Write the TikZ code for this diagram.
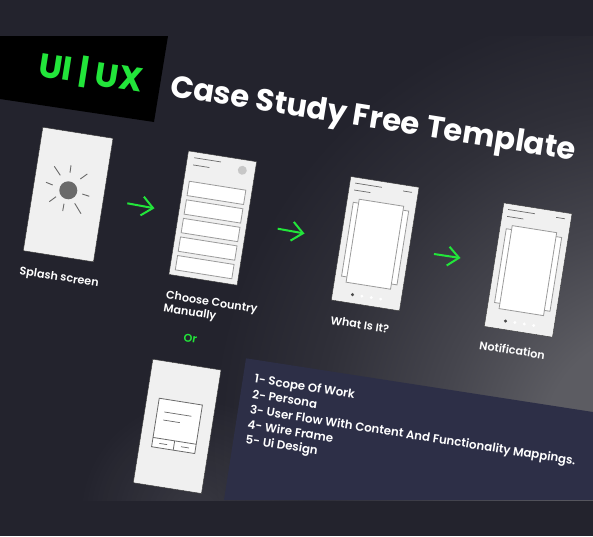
\documentclass[tikz,border=0pt]{standalone}
\usepackage{fontspec}
\setmainfont{Poppins}[BoldFont={Poppins SemiBold}]
\newfontfamily\headfont{Poppins}
\usetikzlibrary{arrows.meta,fadings}
\definecolor{bgdark}{HTML}{23232D}
\definecolor{neon}{HTML}{22E53A}
\definecolor{panelblue}{HTML}{2D2F47}
\definecolor{paper}{HTML}{F0F0F0}
\definecolor{wire}{HTML}{9A9A9A}
\definecolor{ink}{HTML}{6A6A6A}
\definecolor{glowA}{HTML}{5C5C62}
\definecolor{glowB}{HTML}{45454D}
\definecolor{glowC}{HTML}{2F2F38}
\pgfdeclareradialshading{bgglow}{\pgfpoint{0bp}{0bp}}{color(0bp)=(glowA); color(6bp)=(glowA); color(12bp)=(glowB); color(19bp)=(glowC); color(25bp)=(bgdark); color(50bp)=(bgdark)}
\tikzfading[name=softspot,inner color=transparent!90,outer color=transparent!100]
\tikzset{
  screen/.style={draw=black!80,line width=.4pt,fill=paper,minimum width=69pt,minimum height=125pt,rotate=-9,anchor=north west,inner sep=0pt},
  label/.style={rotate=-9,anchor=base west,inner sep=0pt,text=white,font=\fontsize{11.2}{12}\selectfont\bfseries},
  listitem/.style={label,font=\fontsize{11.8}{13}\selectfont\bfseries},
  greenarrow/.style={draw=neon,line width=2pt,-{Straight Barb[length=11pt,width=19pt,line width=2pt]}},
  wireline/.style={draw=ink,line width=.7pt},
  wirebox/.style={draw=wire,line width=.8pt,fill=white},
  ray/.style={draw=ink,line width=.9pt},
}
\newcommand{\headerlines}{%
  \draw[wireline] (5.5,6) -- ++(27,0);
  \draw[wireline] (5.5,13) -- ++(16.5,0);}
\newcommand{\shortline}{\draw[wireline] (54,6.3) -- ++(9,0);}
\newcommand{\cardstack}{%
  \draw[wirebox] (6.6,25.3) rectangle (62.7,100);
  \draw[wirebox] (12,21.3) rectangle (57,105.3);
  \fill[ink!70!black] (20.3,116.6) circle (1.7);
  \foreach \xx in {29.8,39.3,48.8}{\fill[white] (\xx,116.6) circle (1.6);}}
\begin{document}
\begin{tikzpicture}[x=1pt,y=-1pt]
\useasboundingbox (0,0) rectangle (593,536);
\fill[bgdark] (0,0) rectangle (593,536);
\begin{scope}
  \clip (0,36) rectangle (593,500);
  \shade[shading=bgglow] (650,440) circle (440);
  \fill[white,path fading=softspot] (195,515) circle (120);
\end{scope}
% panel and banner
\fill[panelblue] (246,358.3) -- (593,412) -- (593,500) -- (224,500) -- cycle;
\fill[black] (0,36) -- (168,36) -- (154,122) -- (0,99) -- cycle;
% headings
\node[label,text=neon,font=\fontsize{33.5}{36}\headfont\bfseries] (uiux) at (37,76) {UI | UX};
\node[label,font=\fontsize{30.6}{34}\headfont\bfseries] (title) at (169,96) {Case Study Free Template};
% screens
\node[screen,minimum width=71pt] (s1) at (42.7,127) {};
\node[screen] (s2) at (188.3,150.7) {};
\node[screen] (s3) at (350.7,176.3) {};
\node[screen] (s4) at (503.7,202.7) {};
\node[screen] (s5) at (152.7,359) {};
% screen 1: sun
\fill[ink] (68.3,190.3) circle (9);
\draw[ray] (54.3,166.3) -- (60.3,175.3);
\draw[ray] (71,165.3) -- (70,172.7);
\draw[ray] (87.3,174) -- (80.3,179);
\draw[ray] (89.3,196.3) -- (82.3,194);
\draw[ray] (81,213.7) -- (74.7,203.3);
\draw[ray] (62.7,211) -- (64,203.7);
\draw[ray] (49.3,201.7) -- (56,196.7);
\draw[ray] (46,182.3) -- (52.7,185);
% screen 2
\begin{scope}[shift={(s2.north west)},rotate=-9]
  \draw[wireline] (7,6) -- ++(27,0);
  \draw[wireline] (7,13.3) -- ++(16.5,0);
  \fill[black!22] (56.4,10.9) circle (4.5);
  \foreach \yy in {30,48.8,67.6,86.4,105.2}{\draw[wirebox] (5.8,\yy) rectangle (63,\yy+14.5);}
\end{scope}
% screen 3
\begin{scope}[shift={(s3.north west)},rotate=-9]
  \headerlines\shortline\cardstack
\end{scope}
% screen 4
\begin{scope}[shift={(s4.north west)},rotate=-9]
  \headerlines\shortline\cardstack
\end{scope}
% screen 5
\begin{scope}[shift={(s5.north west)},rotate=-9]
  \draw[draw=ink,line width=.8pt,fill=white] (12.6,37.7) rectangle (56.3,86.8);
  \draw[draw=ink,line width=.8pt] (12.6,77.4) -- (56.3,77.4) (34.5,77.4) -- (34.5,86.8);
  \draw[wireline] (19.8,50.5) -- ++(27.4,0);
  \draw[wireline] (20,58.6) -- ++(16.7,0);
  \draw[wireline] (19.7,82.3) -- ++(8,0);
  \draw[wireline] (41.7,82.2) -- ++(8,0);
\end{scope}
% arrows
\coordinate (a1s) at (127.3,203.3); \coordinate (a1e) at (154.5,208.3);
\coordinate (a2s) at (277.7,228.7); \coordinate (a2e) at (304.5,233.5);
\coordinate (a3s) at (434,254);     \coordinate (a3e) at (460.5,258);
\draw[greenarrow] (a1s) -- (a1e);
\draw[greenarrow] (a2s) -- (a2e);
\draw[greenarrow] (a3s) -- (a3e);
% labels
\node[label] (l1) at (19,274.5) {Splash screen};
\node[label] (l2a) at (165.5,298.5) {Choose Country};
\node[label] (l2b) at (163,311.5) {Manually};
\node[label,text=neon] (l2c) at (183,341.5) {Or};
\node[label] (l3) at (330,324) {What Is It?};
\node[label] (l4) at (478.7,349) {Notification};
% list
\node[listitem] (i1) at (254,382.7) {1- Scope Of Work};
\node[listitem] (i2) at (251.7,398) {2- Persona};
\node[listitem] (i3) at (249.3,413.3) {3- User Flow With Content And Functionality Mappings.};
\node[listitem] (i4) at (247,428.7) {4- Wire Frame};
\node[listitem] (i5) at (245,443.3) {5- Ui Design};
\end{tikzpicture}
\end{document}
